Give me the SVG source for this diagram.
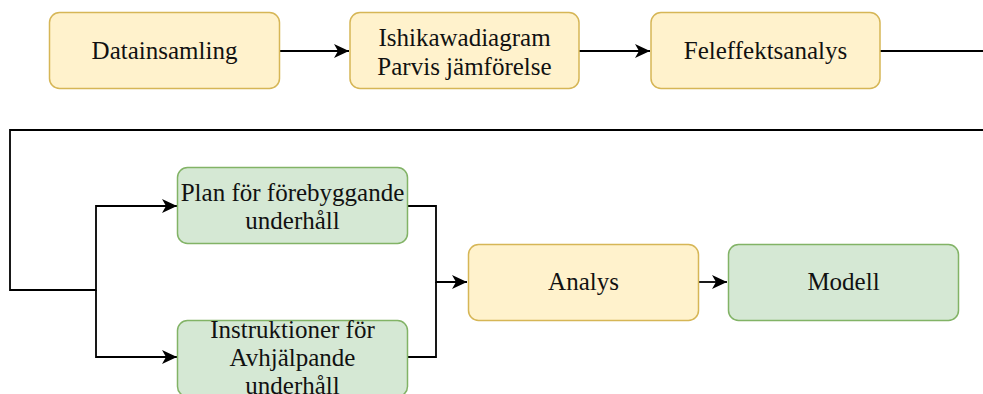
<svg xmlns="http://www.w3.org/2000/svg" width="983" height="394" viewBox="0 0 983 394">
<style>
.y{fill:#fff2cc;stroke:#d6b656;stroke-width:1.5}
.g{fill:#d5e8d4;stroke:#82b366;stroke-width:1.5}
.t{font-family:"Liberation Serif","Times New Roman",serif;font-size:25px;fill:#111;text-anchor:middle}
.e{fill:none;stroke:#000;stroke-width:1.8}
</style>
<defs>
<marker id="a" markerUnits="userSpaceOnUse" markerWidth="15" markerHeight="14" refX="15" refY="7" orient="auto">
<path d="M0,0 L15,7 L0,14 L4,7 z" fill="#000"/>
</marker>
</defs>
<g id="connectors">
<path class="e" d="M280,51 H349" marker-end="url(#a)"/>
<path class="e" d="M579,51 H650" marker-end="url(#a)"/>
<path class="e" d="M880,51 H1000 V130 H10 V290 H96 V206 H177" marker-end="url(#a)"/>
<path class="e" d="M96,290 V357 H177" marker-end="url(#a)"/>
<path class="e" d="M408,206 H436 V282 H467" marker-end="url(#a)"/>
<path class="e" d="M408,357 H436 V282"/>
<path class="e" d="M699,282 H727" marker-end="url(#a)"/>
</g>
<g id="datainsamling">
<rect class="y" x="49.5" y="12.5" width="230" height="76" rx="10"/>
<text class="t" x="164.5" y="59">Datainsamling</text>
</g>
<g id="ishikawa">
<rect class="y" x="350" y="12.5" width="229" height="76" rx="10"/>
<text class="t" x="464.5" y="46">Ishikawadiagram</text>
<text class="t" x="464.5" y="74.5">Parvis jämförelse</text>
</g>
<g id="feleffekt">
<rect class="y" x="651" y="12.5" width="229" height="76" rx="10"/>
<text class="t" x="765.5" y="59">Feleffektsanalys</text>
</g>
<g id="plan">
<rect class="g" x="177.5" y="167.5" width="230" height="76" rx="10"/>
<text class="t" x="292.5" y="200.5">Plan för förebyggande</text>
<text class="t" x="292.5" y="228.5">underhåll</text>
</g>
<g id="instruktioner">
<rect class="g" x="177.5" y="320.5" width="230" height="76" rx="10"/>
<text class="t" x="292.5" y="338">Instruktioner för</text>
<text class="t" x="292.5" y="366">Avhjälpande</text>
<text class="t" x="292.5" y="394">underhåll</text>
</g>
<g id="analys">
<rect class="y" x="468.5" y="244.5" width="230" height="76" rx="10"/>
<text class="t" x="583.5" y="290">Analys</text>
</g>
<g id="modell">
<rect class="g" x="728.5" y="244.5" width="230" height="76" rx="10"/>
<text class="t" x="843.5" y="290">Modell</text>
</g>
</svg>
